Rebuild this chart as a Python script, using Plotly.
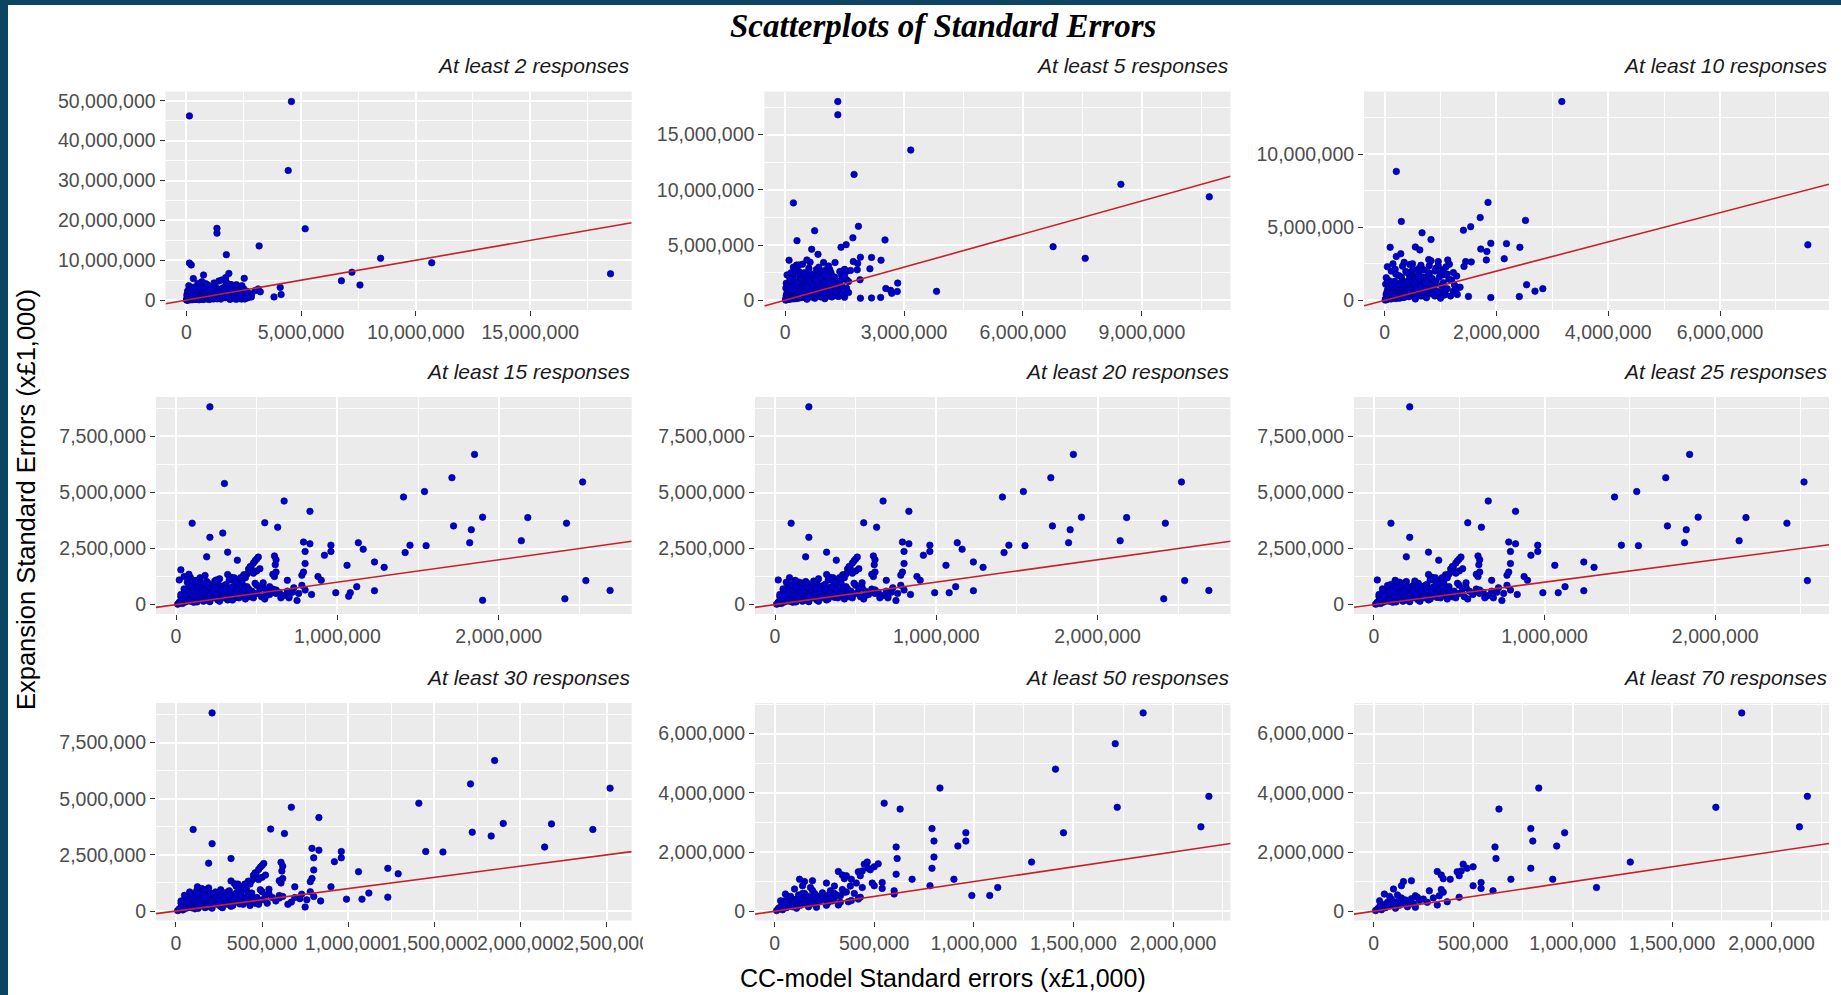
import plotly.graph_objects as go

W, H = 1841, 995

# ---------------- data (values in millions of £1,000 units) ----------------
# Points are grouped by the largest "at least N responses" panel they still appear in:
# a point listed under tier T appears in every panel whose threshold is <= T.
cc_70 = [1.85, 0.83, 0.63, 1.72, 2.18, 2.14, 0.96, 0.80, 0.79, 0.92,
         0.61, 0.615, 1.29, 0.79, 0.69, 0.90, 1.12, 0.50, 0.45, 0.44,
         0.42, 0.385, 0.32, 0.34, 0.35, 0.50, 0.54, 0.54, 0.60, 0.28,
         0.32, 0.34, 0.35, 0.37, 0.15, 0.14, 0.19, 0.10, 0.054, 0.21,
         0.22, 0.23, 0.21, 0.25, 0.01, 0.02, 0.03, 0.04, 0.05, 0.06,
         0.07, 0.08, 0.09, 0.10, 0.11, 0.12, 0.13, 0.14, 0.15, 0.16,
         0.17, 0.18, 0.19, 0.20, 0.12, 0.08, 0.27, 0.30, 0.33, 0.03,
         0.47, 0.43, 0.43]
exp_70 = [6.70, 4.16, 3.45, 3.51, 3.88, 2.85, 2.65, 2.37, 2.79, 2.20,
          2.17, 1.78, 1.66, 1.45, 1.08, 1.08, 0.80, 1.50, 1.59, 1.36,
          1.33, 1.08, 1.34, 1.22, 1.10, 0.86, 0.97, 0.77, 0.69, 0.69,
          0.21, 0.73, 0.64, 0.32, 1.00, 0.86, 1.03, 0.75, 0.58, 0.52,
          0.47, 0.36, 0.13, 0.41, 0.02, 0.08, 0.15, 0.05, 0.22, 0.12,
          0.30, 0.18, 0.40, 0.26, 0.10, 0.33, 0.20, 0.45, 0.28, 0.38,
          0.15, 0.30, 0.42, 0.24, 0.55, 0.50, 0.30, 0.45, 0.52, 0.35,
          1.45, 1.20, 0.47]

cc_50 = [1.71, 1.41, 0.55, 1.45, 0.99, 1.08, 0.78, 0.80, 0.61, 0.96,
         0.465, 0.49, 0.125, 0.60, 0.385, 0.42, 0.20, 0.27, 0.30, 0.07,
         0.36, 0.48, 0.52, 0.40, 0.15, 0.05, 0.18, 0.24, 0.26, 0.29,
         0.11, 0.02, 0.04, 0.06, 0.09, 0.12, 0.14, 0.17, 0.19, 0.22,
         0.24, 0.28, 0.31, 0.33, 0.36, 0.38, 0.41, 0.44, 0.30, 0.26]
exp_50 = [5.66, 4.80, 3.65, 2.65, 0.53, 0.53, 0.86, 1.83, 1.25, 2.37,
          1.66, 0.95, 1.08, 0.58, 0.36, 0.41, 0.60, 0.55, 0.60, 0.45,
          1.20, 1.40, 1.60, 0.60, 0.60, 0.35, 0.80, 0.62, 0.20, 0.35,
          0.40, 0.10, 0.20, 0.30, 0.15, 0.45, 0.60, 0.50, 0.70, 0.35,
          0.50, 0.45, 0.55, 0.30, 0.65, 0.85, 0.95, 0.80, 0.85, 0.95]

cc_30 = [0.21, 0.10, 0.21, 0.19, 0.32, 0.67, 0.83, 1.06, 1.23, 1.23,
         0.75, 1.55, 1.83, 1.90, 2.42, 2.52, 0.78, 0.37, 0.40, 0.46,
         0.48, 0.49, 0.50, 0.51, 0.62, 0.62, 0.60, 0.12, 0.17, 0.23,
         0.26, 0.28, 0.31, 0.06, 0.09, 0.16, 0.22, 0.29, 0.32, 0.36,
         0.40, 0.44, 0.46, 0.04, 0.13, 0.67, 0.72,
         0.02, 0.03, 0.05, 0.06, 0.08, 0.09, 0.11, 0.13, 0.14, 0.16,
         0.18, 0.19, 0.20, 0.21, 0.23, 0.24, 0.25, 0.26, 0.27, 0.28,
         0.30, 0.31, 0.33, 0.34, 0.35, 0.37, 0.38, 0.39, 0.41, 0.42,
         0.43, 0.45, 0.47, 0.48, 0.50, 0.52, 0.53, 0.56, 0.58, 0.62,
         0.65, 0.69, 0.73, 0.76, 0.80, 0.84]
exp_30 = [8.82, 3.63, 3.00, 2.13, 2.34, 4.62, 2.71, 1.75, 1.90, 0.62,
          0.18, 2.63, 3.34, 3.90, 3.63, 5.47, 1.31, 1.00, 1.20, 1.70,
          1.85, 1.95, 2.03, 2.12, 2.00, 1.45, 1.35, 0.90, 0.95, 0.85,
          0.90, 0.80, 0.90, 0.62, 0.68, 0.70, 0.72, 0.50, 0.40, 0.50,
          0.45, 0.62, 0.35, 0.28, 0.12, 0.40, 0.55,
          0.05, 0.45, 0.70, 0.40, 0.85, 0.55, 0.65, 0.78, 0.35, 0.55,
          0.65, 0.20, 0.80, 0.40, 0.60, 0.30, 0.50, 0.70, 0.15, 0.62,
          0.30, 0.68, 0.25, 0.55, 0.80, 0.45, 0.65, 0.30, 0.55, 0.75,
          0.25, 0.45, 0.60, 0.30, 0.50, 0.70, 0.35, 0.60, 0.45, 0.65,
          0.30, 0.60, 0.75, 0.50, 0.65, 0.45]

cc_25 = [1.82, 2.54, 0.38, 0.02, 0.64, 0.88, 0.70, 1.54, 0.10, 0.24,
         0.33, 0.55, 0.62]
exp_25 = [2.76, 1.07, 1.98, 1.10, 0.55, 1.25, 0.30, 5.04, 0.90, 1.05,
          1.10, 0.25, 0.50]

cc_20 = [1.42, 2.41, 2.69, 0.09, 0.27, 0.56, 1.13, 1.16, 0.07, 0.20,
         0.45, 0.70]
exp_20 = [2.32, 0.26, 0.63, 1.20, 1.15, 0.40, 2.76, 2.47, 1.00, 0.95,
          0.70, 0.35]

cc_15 = [1.90, 0.30, 0.29, 0.03, 0.15, 0.25, 0.08, 0.18, 1.07, 0.05,
         0.12, 0.35, 0.58]
exp_15 = [0.19, 5.40, 3.19, 1.55, 1.20, 1.10, 1.35, 1.30, 0.37, 1.25,
          1.05, 0.20, 0.80]

cc_10 = [2.83, 3.17, 7.57, 1.50, 1.00, 1.15, 1.05, 1.25, 1.35, 1.30,
         0.55, 1.00, 0.90, 0.70, 1.10, 0.35, 0.45, 0.25,
         0.55, 0.60, 0.65, 0.70, 0.72, 0.75, 0.78, 0.82, 0.85, 0.88,
         0.90, 0.92, 0.95, 0.98, 1.02, 1.05, 1.08, 1.12, 1.18, 1.20,
         1.28, 0.40, 0.30, 0.20, 0.12, 0.05, 0.15, 0.50, 0.65]
exp_10 = [0.80, 13.60, 3.80, 0.27, 1.90, 1.45, 1.20, 1.05, 0.90, 0.40,
          0.10, 0.15, 0.30, 1.60, 2.30, 2.60, 2.45, 1.70,
          1.20, 1.70, 0.90, 2.10, 1.30, 0.60, 1.90, 1.10, 1.50, 0.80,
          2.00, 1.30, 0.60, 1.60, 1.00, 2.10, 0.70, 1.80, 0.30, 1.40,
          0.70, 1.90, 1.60, 1.80, 2.00, 2.30, 2.50, 2.50, 2.40]

cc_5 = [1.33, 1.33, 1.74, 8.47, 10.70, 6.76, 3.82, 0.745, 1.89, 2.84,
        2.18, 2.66, 0.97, 1.26, 1.38, 1.50, 1.55, 0.44, 1.20, 1.45,
        1.60, 1.35, 1.05, 0.25,
        0.85, 1.00, 1.10, 1.15, 1.25, 1.30, 1.40, 1.45, 1.50, 1.55,
        1.60, 1.10, 0.60, 0.35, 1.65]
exp_5 = [18.00, 16.80, 11.40, 10.50, 9.37, 4.86, 0.81, 6.30, 1.86, 1.56,
         0.21, 0.90, 3.42, 3.42, 2.60, 2.80, 1.86, 3.27, 1.60, 1.20,
         0.70, 0.35, 2.80, 2.70,
         3.00, 2.30, 1.50, 0.90, 2.10, 1.30, 1.80, 0.60, 2.30, 1.10,
         1.70, 3.10, 2.90, 3.20, 2.70]

cc_2 = [0.13, 4.58, 4.44, 5.18, 0.13, 3.13, 3.00, 3.22, 4.09, 4.13,
        7.22, 18.50, 2.00, 2.25, 2.45, 2.60, 2.30, 2.05, 1.60, 0.90, 0.50,
        1.70, 1.80, 1.90, 2.10, 2.15, 2.35, 2.50, 2.55, 2.65, 2.70,
        1.65, 1.95, 2.20, 1.75, 1.20]
exp_2 = [46.20, 49.80, 32.50, 17.90, 9.30, 2.80, 2.40, 2.10, 3.20, 1.40,
         7.00, 6.60, 2.50, 1.70, 2.10, 1.40, 0.45, 0.90, 3.10, 3.90, 4.20,
         0.60, 1.60, 2.80, 0.35, 3.30, 1.00, 2.80, 0.30, 2.20, 0.90,
         2.30, 3.90, 2.60, 4.40, 4.30]

tier_levels = [70, 50, 30, 25, 20, 15, 10, 5, 2]
tier_cc = [cc_70, cc_50, cc_30, cc_25, cc_20, cc_15, cc_10, cc_5, cc_2]
tier_exp = [exp_70, exp_50, exp_30, exp_25, exp_20, exp_15, exp_10, exp_5, exp_2]

min_responses = [2, 5, 10, 15, 20, 25, 30, 50, 70]
panel_titles = [f"At least {n} responses" for n in min_responses]
x_dticks = [5e6, 3e6, 2e6, 1e6, 1e6, 1e6, 5e5, 5e5, 5e5]
y_dticks = [1e7, 5e6, 5e6, 2.5e6, 2.5e6, 2.5e6, 2.5e6, 2e6, 2e6]

UNIT = 1_000_000

# ---------------- layout geometry (pixels of the 1841x995 page) ----------------
col_right = [631.7, 1230.5, 1829.0]
col_left = [[165.5, 764.3, 1364.0], [156.0, 755.0, 1354.0], [156.0, 755.0, 1354.0]]
row_top = [91.6, 397.0, 703.0]
row_bot = [310.0, 614.0, 920.5]
sub_title_y = [66.0, 371.0, 677.0]

PANEL_BG = "#EBEBEB"
POINT_COLOR = "#0000CC"
POINT_EDGE = "#000080"
LINE_COLOR = "#C8202A"
SANS = "Liberation Sans, Arial, sans-serif"
TICK_FONT = dict(family=SANS, size=19.5, color="#4D4D4D")

fig = go.Figure()
layout = {}
annotations = []

for i, T in enumerate(min_responses):
    r, c = divmod(i, 3)
    xs, ys = [], []
    for lvl, cx, ey in zip(tier_levels, tier_cc, tier_exp, strict=True):
        assert len(cx) == len(ey), lvl
        if lvl >= T:
            xs += [v * UNIT for v in cx]
            ys += [v * UNIT for v in ey]
    xmin, xmax = min(xs), max(xs)
    ymin, ymax = min(ys), max(ys)
    xpad = 0.05 * (xmax - xmin)
    ypad = 0.05 * (ymax - ymin)
    xr = [xmin - xpad, xmax + xpad]
    yr = [ymin - ypad, ymax + ypad]

    k = i + 1
    xn = "x" if k == 1 else f"x{k}"
    yn = "y" if k == 1 else f"y{k}"

    fig.add_trace(go.Scatter(
        x=xs, y=ys, mode="markers", xaxis=xn, yaxis=yn, showlegend=False,
        marker=dict(size=6.5, color=POINT_COLOR, line=dict(color=POINT_EDGE, width=0.7)),
        hoverinfo="x+y"))
    fig.add_trace(go.Scatter(
        x=xr, y=xr, mode="lines", xaxis=xn, yaxis=yn, showlegend=False,
        line=dict(color=LINE_COLOR, width=1.6), hoverinfo="skip"))

    l = col_left[r][c]
    rt = col_right[c]
    axis_common = dict(
        tick0=0, tickformat=",", ticks="outside", ticklen=5, tickwidth=1.3,
        tickcolor="#333333", showgrid=True, gridcolor="white", gridwidth=2,
        zeroline=False, showline=False, tickfont=TICK_FONT, tickangle=0,
        automargin=False, fixedrange=True)
    layout["xaxis" + ("" if k == 1 else str(k))] = dict(
        domain=[l / W, rt / W], anchor=yn, range=xr, dtick=x_dticks[i],
        minor=dict(dtick=x_dticks[i] / 2, tick0=0, showgrid=True, gridcolor="white",
                   gridwidth=1, ticks=""),
        **axis_common)
    layout["yaxis" + ("" if k == 1 else str(k))] = dict(
        domain=[1 - row_bot[r] / H, 1 - row_top[r] / H], anchor=xn, range=yr,
        dtick=y_dticks[i],
        minor=dict(dtick=y_dticks[i] / 2, tick0=0, showgrid=True, gridcolor="white",
                   gridwidth=1, ticks=""),
        **axis_common)

    annotations.append(dict(
        text=f"<i>{panel_titles[i]}</i>", x=rt / W, y=1 - sub_title_y[r] / H,
        xref="paper", yref="paper", xanchor="right", yanchor="middle", showarrow=False,
        font=dict(family=SANS, size=21, color="#1a1a1a")))

annotations.append(dict(
    text="<b><i>Scatterplots of Standard Errors</i></b>", x=943 / W, y=1 - 26 / H,
    xref="paper", yref="paper", xanchor="center", yanchor="middle", showarrow=False,
    font=dict(family="Liberation Serif, Times New Roman, serif", size=33, color="black")))
annotations.append(dict(
    text="CC-model Standard errors (x£1,000)", x=943 / W, y=1 - 978 / H,
    xref="paper", yref="paper", xanchor="center", yanchor="middle", showarrow=False,
    font=dict(family=SANS, size=25, color="black")))
annotations.append(dict(
    text="Expansion Standard Errors (x£1,000)", x=26 / W, y=1 - 500 / H, textangle=-90,
    xref="paper", yref="paper", xanchor="center", yanchor="middle", showarrow=False,
    font=dict(family=SANS, size=25.5, color="black")))

FRAME = "#0B4562"
shapes = [
    dict(type="rect", xref="paper", yref="paper", x0=0, x1=8 / W, y0=0, y1=1,
         fillcolor=FRAME, line=dict(width=0), layer="above"),
    dict(type="rect", xref="paper", yref="paper", x0=0, x1=1, y0=1 - 5 / H, y1=1,
         fillcolor=FRAME, line=dict(width=0), layer="above"),
    # the bottom-left sub-plot's last x label is cut off at its viewport edge
    dict(type="rect", xref="paper", yref="paper", x0=643 / W, x1=653 / W,
         y0=1 - 958 / H, y1=1 - 925 / H, fillcolor="white", line=dict(width=0),
         layer="above"),
]

# No layout width/height: the plot fills its div, which is pinned to the page's
# top-left corner at exactly 1841x995 (independent of the body's default margin).
fig.update_layout(
    margin=dict(l=0, r=0, t=0, b=0, pad=0, autoexpand=False),
    paper_bgcolor="white", plot_bgcolor=PANEL_BG,
    annotations=annotations, shapes=shapes, **layout)

fig.write_html(
    "out.html",
    config={"displayModeBar": False},
    default_width=f"{W}px;position:absolute;left:0px;top:0px",
    default_height=f"{H}px",
)
